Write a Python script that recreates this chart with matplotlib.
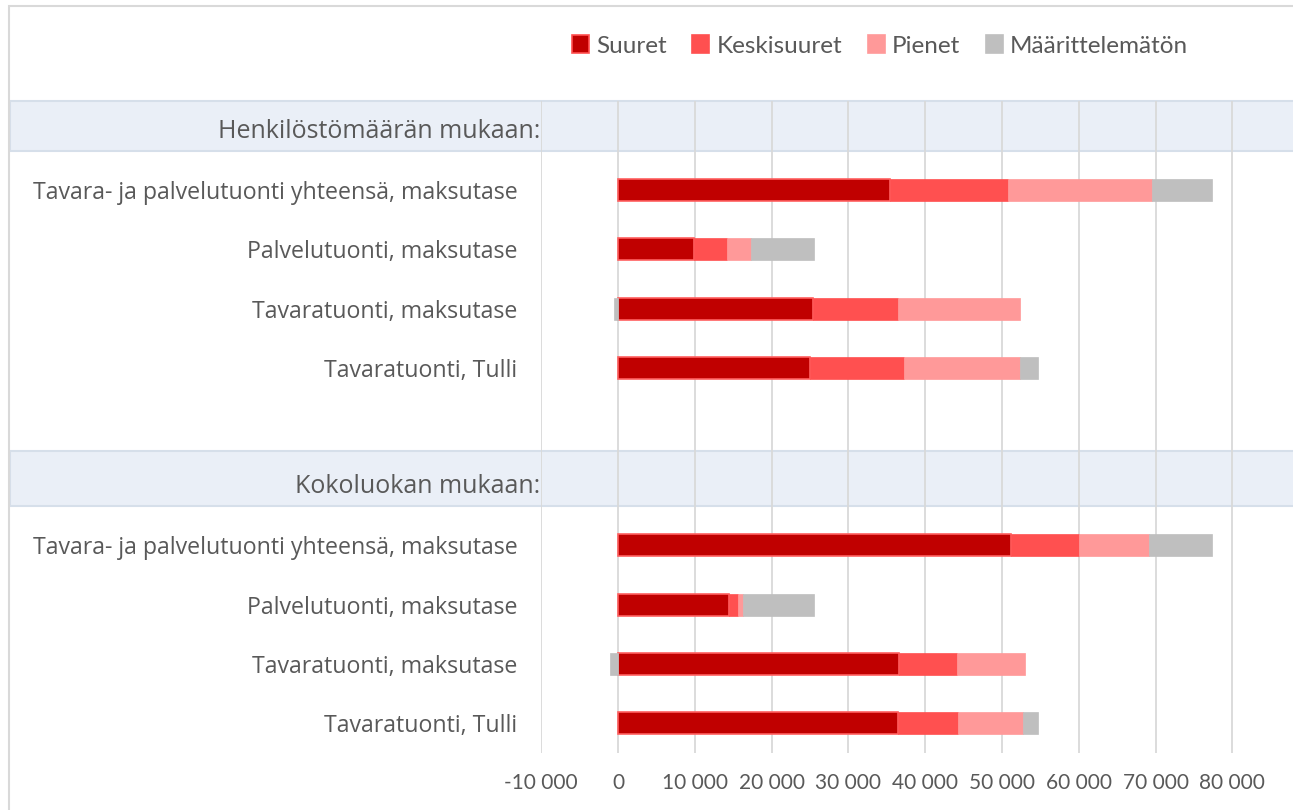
import matplotlib
matplotlib.use("Agg")
import matplotlib.pyplot as plt
from matplotlib.patches import Patch, Rectangle
from matplotlib.transforms import blended_transform_factory
import numpy as np

# rows from top to bottom; header rows and an empty spacer included
rows = [
    "Henkilöstömäärän mukaan:",
    "Tavara- ja palvelutuonti yhteensä, maksutase",
    "Palvelutuonti, maksutase",
    "Tavaratuonti, maksutase",
    "Tavaratuonti, Tulli",
    "",
    "Kokoluokan mukaan:",
    "Tavara- ja palvelutuonti yhteensä, maksutase",
    "Palvelutuonti, maksutase",
    "Tavaratuonti, maksutase",
    "Tavaratuonti, Tulli",
]
headers = [0, 6]
data_rows = [1, 2, 3, 4, 7, 8, 9, 10]

series = ["Suuret", "Keskisuuret", "Pienet", "Määrittelemätön"]
suuret = [35400, 9900, 25400, 25000, 51200, 14500, 36600, 36500]
keskisuuret = [15400, 4300, 11000, 12200, 8800, 1100, 7600, 7800]
pienet = [18700, 3100, 16000, 15100, 9200, 700, 8800, 8500]
maarittelematon = [7800, 8200, -500, 2400, 8100, 9200, -1100, 1900]

colors = ["#C00000", "#FF5050", "#FF9999", "#BFBFBF"]
xticks = np.arange(-10000, 80001, 10000)

narrow = "Lato"
txt = "#595959"

fig = plt.figure(figsize=(12.93, 8.10), dpi=100)
W, H = 1293, 810
ax = fig.add_axes([541.2 / W, 1 - 752.6 / H, 1 - 541.2 / W, (752.6 - 101.4) / H])

# bands behind section headers
tr = blended_transform_factory(fig.transFigure, ax.transData)
for h in headers:
    y0 = max(h - 0.6, -0.5)
    rect = Rectangle((10 / W, y0), 1.0, h + 0.33 - y0, transform=tr,
                     facecolor="#EAEFF7", edgecolor="#D6DFEA", lw=1.5,
                     clip_on=False, zorder=0.2)
    ax.add_patch(rect)
    ax.text(540 / W, h, rows[h], transform=tr, ha="right", va="center",
            fontsize=18, family="Open Sans", color=txt)

vals = [suuret, keskisuuret, pienet, maarittelematon]
pos_left = np.zeros(len(data_rows))
for i, (v, c) in enumerate(zip(vals, colors)):
    v = np.array(v, dtype=float)
    left = np.where(v >= 0, pos_left, 0)
    ec = "#FF6060" if i == 0 else c
    ax.barh(data_rows, v, left=left, height=0.37, color=c, edgecolor=ec,
            lw=1.2 if i == 0 else 0.5, zorder=2)
    pos_left = pos_left + np.where(v >= 0, v, 0)

ax.set_xlim(-10000, 87900)
ax.set_ylim(10.5, -0.5)
ax.set_xticks(xticks)
ax.set_xticklabels([f"{t:,}".replace(",", " ") for t in xticks],
                   family=narrow, fontsize=15, color=txt)
ax.set_yticks(data_rows)
ax.set_yticklabels([rows[r] for r in data_rows], family="Open Sans",
                   fontsize=16.7, color=txt)
ax.tick_params(axis="both", length=0)
ax.tick_params(axis="y", pad=17)
ax.tick_params(axis="x", pad=15)
ax.grid(axis="x", color="#D9D9D9", lw=1.3)
ax.set_axisbelow(True)
for s in ax.spines.values():
    s.set_visible(False)

# chart border
fig.patches.append(Rectangle((9 / W, -0.05), 1.1, 1 - 6 / H + 0.05,
                             transform=fig.transFigure, fill=False,
                             edgecolor="#D9D9D9", lw=1.5))

handles = [Patch(facecolor=c, edgecolor=("#FF5050" if i == 0 else c), lw=1.2)
           for i, c in enumerate(colors)]
fig.legend(handles, series, loc="center", bbox_to_anchor=(880 / W, 1 - 46 / H),
           ncol=4, frameon=False, handlelength=0.7, handleheight=0.7,
           handletextpad=0.3, columnspacing=1.05,
           prop={"family": narrow, "size": 17.5}, labelcolor=txt)

fig.savefig("out.png", dpi=100)
